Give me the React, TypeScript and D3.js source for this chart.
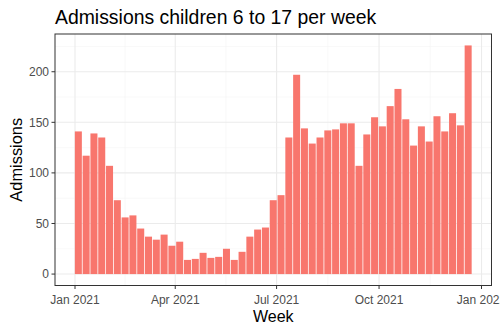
import React from "react";
import * as d3 from "d3";

const weekStarts: string[] = [
  "2021-01-04","2021-01-11","2021-01-18","2021-01-25","2021-02-01","2021-02-08","2021-02-15","2021-02-22",
  "2021-03-01","2021-03-08","2021-03-15","2021-03-22","2021-03-29","2021-04-05","2021-04-12","2021-04-19",
  "2021-04-26","2021-05-03","2021-05-10","2021-05-17","2021-05-24","2021-05-31","2021-06-07","2021-06-14",
  "2021-06-21","2021-06-28","2021-07-05","2021-07-12","2021-07-19","2021-07-26","2021-08-02","2021-08-09",
  "2021-08-16","2021-08-23","2021-08-30","2021-09-06","2021-09-13","2021-09-20","2021-09-27","2021-10-04",
  "2021-10-11","2021-10-18","2021-10-25","2021-11-01","2021-11-08","2021-11-15","2021-11-22","2021-11-29",
  "2021-12-06","2021-12-13","2021-12-20",
];
const admissions: number[] = [
  141, 117, 139, 135, 107, 73, 56, 58, 45, 37, 34, 39, 28, 32, 14, 15, 21, 16, 17, 25, 14, 22, 37, 44, 46, 73,
  78, 135, 197, 144, 129, 135, 142, 143, 149, 149, 107, 138, 155, 146, 166, 183, 153, 127, 146, 131, 156, 141,
  159, 147, 226,
];
const yTicks: number[] = [0, 50, 100, 150, 200];
const yMinor: number[] = [25, 75, 125, 175, 225];
const xTickDates: string[] = ["2021-01-01", "2021-04-01", "2021-07-01", "2021-10-01", "2022-01-01"];
const xTickLabels: string[] = ["Jan 2021", "Apr 2021", "Jul 2021", "Oct 2021", "Jan 2022"];

const W = 500, H = 333;
const left = 55, right = 491.5, top = 34, bottom = 285.5;
const DAY = 86400000;

export default function App() {
  const parse = (s: string) => new Date(s + "T00:00:00Z");
  const dates = weekStarts.map(parse);
  const dMin = d3.min(dates)!.getTime() - 3.15 * DAY;
  const dMax = d3.max(dates)!.getTime() + 3.15 * DAY;
  const padX = (dMax - dMin) * 0.05;
  const x = d3.scaleUtc().domain([new Date(dMin - padX), new Date(dMax + padX)]).range([left, right]);
  const yMax = d3.max(admissions)!;
  const padY = yMax * 0.05;
  const y = d3.scaleLinear().domain([-padY, yMax + padY]).range([bottom, top]);
  const xTicks = xTickDates.map(parse);
  const xMinor = xTicks.slice(0, -1).map((d, i) => new Date((d.getTime() + xTicks[i + 1].getTime()) / 2));
  const barW = x(new Date(dMin + 6.3 * DAY)) - x(new Date(dMin));
  const font = "'Liberation Sans', Arial, sans-serif";

  return (
    <svg width={W} height={H} style={{ position: "absolute", left: 0, top: 0, background: "#fff" }} fontFamily={font}>
      <defs>
        <clipPath id="panel">
          <rect x={left} y={top} width={right - left} height={bottom - top} />
        </clipPath>
      </defs>
      <g clipPath="url(#panel)">
        {yMinor.map((v) => (
          <line key={"ym" + v} x1={left} x2={right} y1={y(v)} y2={y(v)} stroke="#F5F5F5" strokeWidth={0.6} />
        ))}
        {xMinor.map((d, i) => (
          <line key={"xm" + i} x1={x(d)} x2={x(d)} y1={top} y2={bottom} stroke="#F5F5F5" strokeWidth={0.6} />
        ))}
        {yTicks.map((v) => (
          <line key={"yg" + v} x1={left} x2={right} y1={y(v)} y2={y(v)} stroke="#EBEBEB" strokeWidth={1.1} />
        ))}
        {xTicks.map((d, i) => (
          <line key={"xg" + i} x1={x(d)} x2={x(d)} y1={top} y2={bottom} stroke="#EBEBEB" strokeWidth={1.1} />
        ))}
        {dates.map((d, i) => (
          <rect
            key={i}
            x={x(d) - barW / 2}
            width={barW}
            y={y(admissions[i])}
            height={y(0) - y(admissions[i])}
            fill="#F8766D"
          />
        ))}
      </g>
      <rect x={left} y={top} width={right - left} height={bottom - top} fill="none" stroke="#333333" strokeWidth={1} />
      {yTicks.map((v) => (
        <g key={"yt" + v}>
          <line x1={left - 3.5} x2={left} y1={y(v)} y2={y(v)} stroke="#333333" strokeWidth={1} />
          <text x={left - 6} y={y(v)} dy="0.35em" textAnchor="end" fontSize={12} fill="#4D4D4D">
            {v}
          </text>
        </g>
      ))}
      {xTicks.map((d, i) => (
        <g key={"xt" + i}>
          <line x1={x(d)} x2={x(d)} y1={bottom} y2={bottom + 3.5} stroke="#333333" strokeWidth={1} />
          <text x={x(d)} y={bottom + 14} dy="0.35em" textAnchor="middle" fontSize={12} fill="#4D4D4D">
            {xTickLabels[i]}
          </text>
        </g>
      ))}
      <text x={(left + right) / 2} y={322} textAnchor="middle" fontSize={16} fill="#000">
        Week
      </text>
      <text transform={`translate(22, ${(top + bottom) / 2}) rotate(-90)`} textAnchor="middle" fontSize={16.4} fill="#000">
        Admissions
      </text>
      <text x={55} y={23.5} fontSize={19.4} fill="#000">
        Admissions children 6 to 17 per week
      </text>
    </svg>
  );
}
